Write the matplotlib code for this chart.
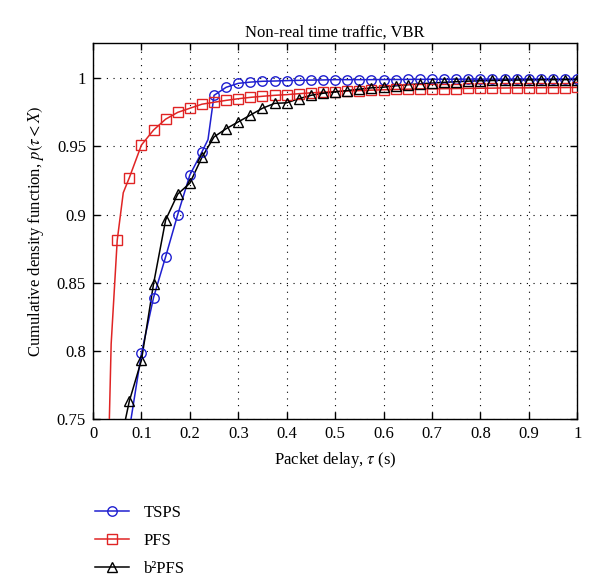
import numpy as np
import matplotlib
matplotlib.use("Agg")
import matplotlib.pyplot as plt
from matplotlib.lines import Line2D

plt.rcParams['font.family'] = ['Liberation Serif', 'DejaVu Serif']
plt.rcParams['mathtext.fontset'] = 'stix'

# Data (markers every 0.025 s, a few extra line points)
tsps_x = [0.075, 0.1, 0.125, 0.15, 0.175, 0.2, 0.225, 0.2375, 0.25, 0.275, 0.3,
          0.325, 0.35, 0.375, 0.4, 0.425, 0.45, 0.475, 0.5, 0.525, 0.55, 0.575,
          0.6, 0.625, 0.65, 0.675, 0.7, 0.725, 0.75, 0.775, 0.8, 0.825, 0.85,
          0.875, 0.9, 0.925, 0.95, 0.975, 1.0]
tsps_y = [0.742, 0.798, 0.839, 0.869, 0.900, 0.929, 0.946, 0.955, 0.9875, 0.9934,
          0.9963, 0.9972, 0.9978, 0.998, 0.9983, 0.9985, 0.9987, 0.9988, 0.999,
          0.999, 0.999, 0.999, 0.9991, 0.9991, 0.9992, 0.9992, 0.9993, 0.9993,
          0.9993, 0.9994, 0.9994, 0.9994, 0.9994, 0.9995, 0.9995, 0.9995, 0.9995,
          0.9995, 0.9996]

pfs_x = [0.025, 0.0375, 0.05, 0.0625, 0.075, 0.1, 0.125, 0.15, 0.175, 0.2, 0.225,
         0.25, 0.275, 0.3, 0.325, 0.35, 0.375, 0.4, 0.425, 0.45, 0.475, 0.5,
         0.525, 0.55, 0.575, 0.6, 0.625, 0.65, 0.675, 0.7, 0.725, 0.75, 0.775,
         0.8, 0.825, 0.85, 0.875, 0.9, 0.925, 0.95, 0.975, 1.0]
pfs_y = [0.62, 0.805, 0.881, 0.916, 0.927, 0.951, 0.962, 0.970, 0.975, 0.978,
         0.981, 0.9824, 0.9838, 0.985, 0.986, 0.9868, 0.9875, 0.988, 0.9887,
         0.9893, 0.9898, 0.9903, 0.9907, 0.991, 0.9913, 0.9916, 0.9918, 0.992,
         0.9922, 0.9923, 0.9924, 0.9925, 0.9926, 0.9927, 0.9928, 0.9929, 0.993,
         0.993, 0.9931, 0.9932, 0.9932, 0.9933]

b2pfs_x = [0.05, 0.0625, 0.075, 0.1, 0.125, 0.15, 0.175, 0.2, 0.225, 0.25, 0.275,
           0.3, 0.325, 0.35, 0.375, 0.4, 0.425, 0.45, 0.475, 0.5, 0.525, 0.55,
           0.575, 0.6, 0.625, 0.65, 0.675, 0.7, 0.725, 0.75, 0.775, 0.8, 0.825,
           0.85, 0.875, 0.9, 0.925, 0.95, 0.975, 1.0]
b2pfs_y = [0.70, 0.742, 0.763, 0.793, 0.849, 0.896, 0.915, 0.923, 0.942, 0.957,
           0.963, 0.968, 0.973, 0.978, 0.9816, 0.982, 0.985, 0.9875, 0.989, 0.990,
           0.991, 0.992, 0.993, 0.9935, 0.9945, 0.9953, 0.996, 0.9965, 0.997,
           0.9975, 0.9979, 0.9982, 0.9984, 0.9986, 0.9987, 0.9988, 0.9989, 0.999,
           0.999, 0.9991]

labels = ['TSPS', 'PFS', 'b\u00b2PFS']
colors = ['#1f1fd0', '#e02424', 'black']
markers = ['o', 's', '^']
x_ticks = [0, 0.1, 0.2, 0.3, 0.4, 0.5, 0.6, 0.7, 0.8, 0.9, 1]
x_tick_labels = ['0', '0.1', '0.2', '0.3', '0.4', '0.5', '0.6', '0.7', '0.8', '0.9', '1']
y_ticks = [0.75, 0.8, 0.85, 0.9, 0.95, 1]
y_tick_labels = ['0.75', '0.8', '0.85', '0.9', '0.95', '1']

fig = plt.figure(figsize=(6, 5.85), dpi=100)
ax = fig.add_axes([0.155, 0.284, 0.807, 0.642])

handles = []
for xs, ys, c, m, lab in zip([tsps_x, pfs_x, b2pfs_x], [tsps_y, pfs_y, b2pfs_y],
                             colors, markers, labels):
    xs = np.array(xs)
    ys = np.array(ys)
    ax.plot(xs, ys, color=c, lw=1.1, zorder=3)
    # markers only on the 0.025 s grid
    on_grid = np.isclose(np.round(xs / 0.025) * 0.025, xs)
    ms = 7.5 if m == '^' else 6.8
    ax.plot(xs[on_grid], ys[on_grid], ls='none', marker=m, ms=ms, mfc='none',
            mec=c, mew=1.0, zorder=4)
    handles.append(Line2D([], [], color=c, lw=1.1, marker=m, ms=ms, mfc='none',
                          mec=c, mew=1.0))

ax.set_xlim(0, 1)
ax.set_ylim(0.75, 1.0257)
ax.set_xticks(x_ticks)
ax.set_xticklabels(x_tick_labels)
ax.set_yticks(y_ticks)
ax.set_yticklabels(y_tick_labels)
ax.tick_params(direction='in', top=True, right=True, length=5, width=1,
               labelsize=12, pad=5)
ax.grid(True, color='black', ls=(0, (1, 5)), lw=0.8)
for s in ax.spines.values():
    s.set_linewidth(1.0)

ax.set_title('Non-real time traffic, VBR', fontsize=12, pad=5)
ax.set_xlabel(r'Packet delay, $\tau$ (s)', fontsize=12, labelpad=6)
ax.set_ylabel(r'Cumulative density function, $p(\tau < X)$', fontsize=12, labelpad=8)

fig.legend(handles, labels, loc='upper left', bbox_to_anchor=(0.148, 0.148),
           frameon=False, fontsize=12, handlelength=2.0, handletextpad=0.9,
           labelspacing=0.72, borderaxespad=0)

fig.savefig('out.png', dpi=100)
